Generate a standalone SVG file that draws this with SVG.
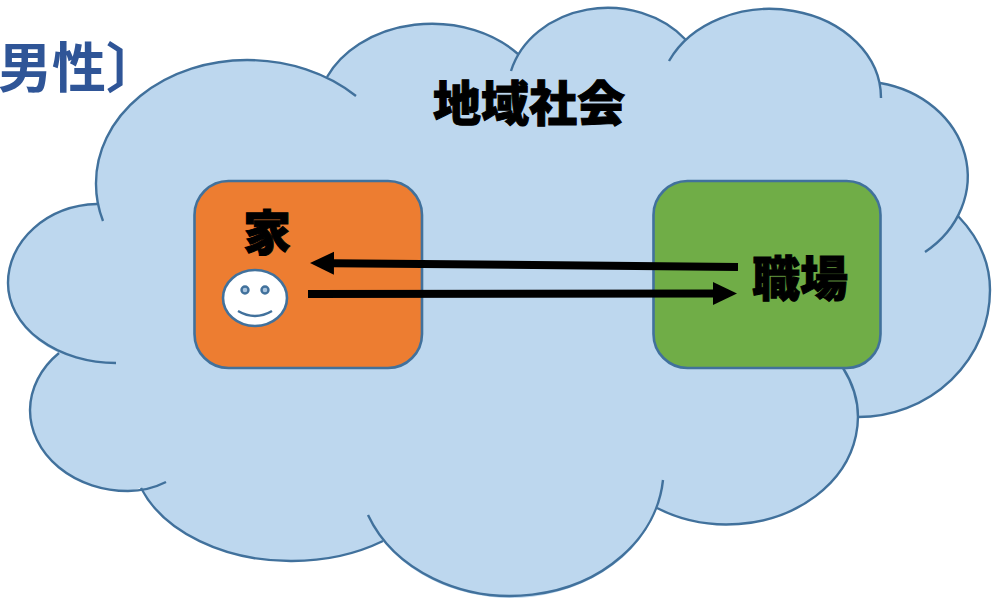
<svg xmlns="http://www.w3.org/2000/svg" width="999" height="598" viewBox="0 0 999 598">
<style>
.ln{fill:none;stroke:#41719C;stroke-width:2.4}
.box{stroke:#41719C;stroke-width:2.6}
.t{font-family:"Noto Sans CJK JP","Noto Sans CJK SC",sans-serif;font-weight:900;fill:#000;stroke:#000;stroke-width:1;text-anchor:middle}
.c{fill:none;stroke:#000}
</style>
<defs>
<marker id="ah" markerUnits="userSpaceOnUse" markerWidth="26" markerHeight="24" refX="1" refY="12" orient="auto"><polygon points="0,0.5 24,12 0,23.5" fill="#000"/></marker>
</defs>
<rect width="999" height="598" fill="#fff"/>
<text id="title" x="-2" y="88" font-family="'Noto Sans CJK JP','Noto Sans CJK SC',sans-serif" font-weight="700" font-size="54" fill="#2F5597">男性〕</text>
<g id="cloud">
<path fill="#BDD7EE" d="M97 204L96 183A151 123 0 0 1 247 60A154 123 0 0 1 327 77A115 90 0 0 1 518 54A100 85 0 0 1 686 40A111 89 0 0 1 880 83A108 95 0 0 1 958 216A170 127 0 0 1 990 290A132 127 0 0 1 858 417A131 107 0 0 1 657 508A153 127 0 0 1 383 541A159 110 0 0 1 292 561A159 110 0 0 1 141 488A83 81 0 0 1 128 491A98 81 0 0 1 30 410A97 81 0 0 1 59 353A108 80 0 0 1 8 283A92 79 0 0 1 97 204Z"/>
<path class="ln" d="M116 363A108 80 0 0 1 8 283A92 79 0 0 1 97 204"/>
<path class="ln" d="M103 221A151 123 0 0 1 96 183A151 123 0 0 1 247 60A154 123 0 0 1 356 96"/>
<path class="ln" d="M327 77A115 90 0 0 1 518 54"/>
<path class="ln" d="M511 71A100 85 0 0 1 686 40"/>
<path class="ln" d="M669 61A111 89 0 0 1 881 98"/>
<path class="ln" d="M880 83A108 95 0 0 1 925 252"/>
<path class="ln" d="M958 216A170 127 0 0 1 990 290A132 127 0 0 1 858 417"/>
<path class="ln" d="M843 368A131 107 0 0 1 657 508"/>
<path class="ln" d="M663 480A153 127 0 0 1 368 515"/>
<path class="ln" d="M383 541A159 110 0 0 1 292 561A159 110 0 0 1 141 488"/>
<path class="ln" d="M166 482A83 81 0 0 1 128 491A98 81 0 0 1 30 410A97 81 0 0 1 59 353"/>
<text class="t" x="529" y="121" font-size="48">地域社会</text>
</g>
<g id="home">
<rect class="box" x="194.500" y="181" width="227.500" height="187" rx="34" fill="#ED7D31"/>
<text class="t" x="267" y="250" font-size="48">家</text>
<g id="face">
<ellipse class="box" cx="255" cy="298" rx="32" ry="28" fill="#fff"/>
<ellipse cx="245" cy="290" rx="3.500" ry="3.500" fill="#A9C4DE" stroke="#41719C" stroke-width="2.400"/>
<ellipse cx="265" cy="290" rx="3.500" ry="3.500" fill="#A9C4DE" stroke="#41719C" stroke-width="2.400"/>
<path class="ln" d="M238 311Q255 321 272 311"/>
</g>
</g>
<g id="work">
<rect class="box" x="653.500" y="181" width="227" height="187" rx="34" fill="#70AD47"/>
<text class="t" x="800" y="296" font-size="48">職場</text>
</g>
<g id="connectors">
<path class="c" stroke-width="8" marker-end="url(#ah)" d="M738 267L333 263.200"/>
<path class="c" stroke-width="8" marker-end="url(#ah)" d="M308 294L714 293.500"/>
</g>
</svg>
